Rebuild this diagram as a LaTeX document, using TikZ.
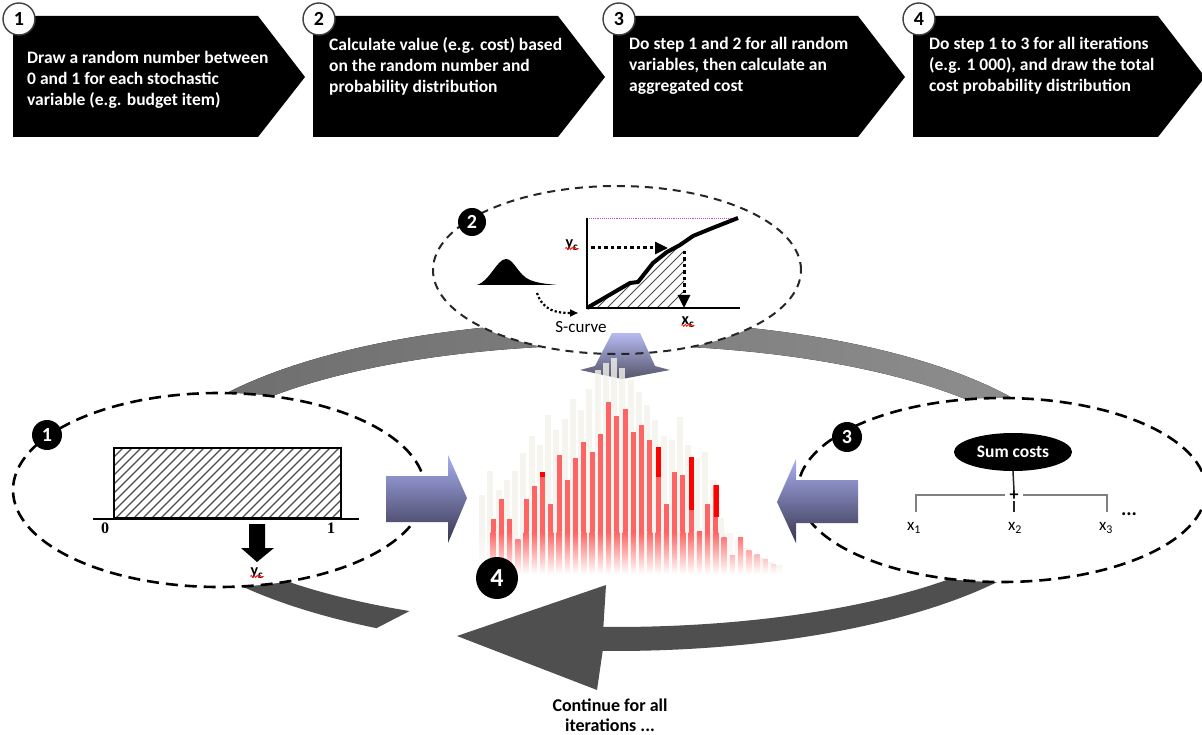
\documentclass[tikz,border=0pt]{standalone}
\usepackage{fontspec}
\setmainfont{Carlito}
\newfontfamily\serifnum{Liberation Serif}
\usetikzlibrary{shapes.geometric,decorations.pathmorphing,arrows.meta}
\definecolor{bandL}{HTML}{6E6E6E}
\definecolor{bandR}{HTML}{8E8E8E}
\definecolor{banddark}{HTML}{4F4F4F}
\definecolor{bluetop}{HTML}{A9AEF0}
\definecolor{bluebot}{HTML}{36364E}
\definecolor{ghostc}{HTML}{F3F1EA}
\definecolor{barred}{HTML}{FF6464}
\definecolor{purpl}{HTML}{C050C8}
\begin{document}
\begin{tikzpicture}[x=1pt,y=-1pt,
  stepcircle/.style={circle, draw=black!75, line width=1.4pt, fill=white, minimum size=32pt, inner sep=0pt, font=\bfseries\fontsize{20}{20}\selectfont},
  steptext/.style={anchor=north west, align=left, text=white, font=\bfseries\fontsize{17.5}{21}\selectfont, inner sep=0pt},
  blacknum/.style={circle, fill=black, inner sep=0pt, text=white, font=\bfseries\fontsize{20}{20}\selectfont},
  dashell/.style={ellipse, draw=black, dash pattern=on 12pt off 7pt, line width=2.6pt, fill=white, inner sep=0pt},
  hatchline/.style={line width=1.2pt, black!70},
  lbl/.style={inner sep=0pt, font=\fontsize{17}{17}\selectfont},
  squig/.style={red, line width=0.7pt, decorate, decoration={zigzag, amplitude=1.1pt, segment length=3pt}},
  dotarrow/.style={line width=3pt, dash pattern=on 3.5pt off 3pt, -{Triangle[length=13pt,width=12pt]}},
  bluearrow/.style={top color=bluetop, bottom color=bluebot}
]
\path[use as bounding box] (0,0) rectangle (1202,735);

% ---------- top chevrons ----------
\foreach \L/\n in {13/1,313/2,613/3,913/4}{
  \fill[black] (\L,16) -- ++(245,0) -- ++(47,61) -- ++(-47,60) -- ++(-245,0) -- cycle;
}
\node[steptext] (t1) at (27,51) {Draw a random number between\\0 and 1 for each stochastic\\variable (e.g. budget item)};
\node[steptext] (t2) at (329,37) {Calculate value (e.g. cost) based\\on the random number and\\probability distribution};
\node[steptext] (t3) at (629,37) {Do step 1 and 2 for all random\\variables, then calculate an\\aggregated cost};
\node[steptext] (t4) at (929,37) {Do step 1 to 3 for all iterations\\(e.g. 1 000), and draw the total\\cost probability distribution};
\node[stepcircle] (s1) at (19,19) {1};
\node[stepcircle] (s2) at (319,19) {2};
\node[stepcircle] (s3) at (619,19) {3};
\node[stepcircle] (s4) at (919,19) {4};

% ---------- ring ----------
\fill[left color=bandL, right color=bandR]
  plot[domain=150:25, samples=60, variable=\t] ({615+470*cos(\t)},{486-165*sin(\t)})
  -- plot[domain=25:150, samples=60, variable=\t] ({615+445*cos(\t)},{486-141*sin(\t)}) -- cycle;
\fill[banddark]
  plot[domain=200:239.5, samples=30, variable=\t] ({615+470*cos(\t)},{486-165*sin(\t)})
  -- plot[domain=242.5:200, samples=30, variable=\t] ({615+445*cos(\t)},{486-141*sin(\t)}) -- cycle;
\coordinate (hb) at (597,690);
\coordinate (ht) at (457,636);
\coordinate (hu) at (606,585);
\fill[banddark]
  plot[domain=335:268.5, samples=50, variable=\t] ({615+470*cos(\t)},{486-165*sin(\t)})
  -- (hb) -- (ht) -- (hu)
  -- plot[domain=268.5:335, samples=50, variable=\t] ({615+445*cos(\t)},{486-141*sin(\t)}) -- cycle;

% ---------- ellipses 1 and 3 ----------
\node[dashell, minimum width=412pt, minimum height=194pt] (e1) at (219,490) {};
\node[dashell, minimum width=408pt, minimum height=184pt] (e3) at (1002,490) {};
\fill[white] (617,270) ellipse[x radius=184, y radius=84];

% ---------- blue arrows ----------
\shade[bluearrow] (386,476) -- (448,476) -- (448,455) -- (467,498) -- (448,543) -- (448,522) -- (386,522) -- cycle;
\shade[bluearrow] (858,480) -- (796,480) -- (796,459) -- (777,502) -- (796,543) -- (796,523) -- (858,523) -- cycle;
\shade[top color=bluetop!85!white, bottom color=bluebot!85!white] (612,333) -- (640,333) -- (655,366) -- (670,370) -- (622,379) -- (580,370) -- (595,366) -- cycle;

% ---------- histogram ----------
\foreach \t [count=\i from 0] in {495,471,490,480,471,453,436,445,415,430,419,399,410,389,370,363,358,368,380,392,405,420,436,440,417,445,458,452,480,518,533,540,548,555,558,562,565}{
  \pgfmathsetmacro{\bx}{479+8.25*\i}
  \ifdim \t pt<532pt
    \fill[ghostc, fill opacity=0.8] (\bx,\t) rectangle (\bx+6,532);
    \shade[top color=ghostc!80!white, bottom color=white] (\bx,532) rectangle (\bx+6,574);
  \else
    \shade[top color=ghostc!70!white, bottom color=white] (\bx,\t) rectangle (\bx+6,574);
  \fi
}
\foreach \t [count=\i from 0] in {519,499,519,539,499,486,472,504,455,480,458,442,452,434,402,416,409,432,425,440,447,504,472,475,457,531,504,485,537,555,537,550,554,559,564}{
  \pgfmathsetmacro{\bx}{490.7+8.25*\i}
  \ifdim \t pt<532pt
    \fill[barred] (\bx,\t) rectangle (\bx+5,532);
    \shade[top color=barred, bottom color=white] (\bx,532) rectangle (\bx+5,574);
  \else
    \pgfmathsetmacro{\fr}{100*(574-\t)/42}
    \shade[top color=barred!\fr!white, bottom color=white] (\bx,\t) rectangle (\bx+5,574);
  \fi
}
\fill[red] (540.2,472) rectangle (545.2,477);
\fill[red] (655.7,447) rectangle (660.7,477);
\fill[red] (688.7,457) rectangle (693.7,510);
\fill[red] (713.5,485) rectangle (718.5,517);

% ---------- ellipse 2 ----------
\node[ellipse, draw=black!85, dash pattern=on 8pt off 6pt, line width=2pt, minimum width=368pt, minimum height=168pt, inner sep=0pt] (e2) at (617,270) {};

% bell
\fill[black] (477,285) .. controls (490,281) and (497,259) .. (506,259)
  .. controls (514,259) and (518,275) .. (530,280)
  .. controls (540,284) and (550,284) .. (557,285) -- cycle;
\draw[line width=2.2pt, dash pattern=on 2.2pt off 2.2pt, -{Triangle[length=8pt,width=7pt]}]
  (537,293) .. controls (543,311) and (557,313) .. (578,313);
\node[lbl, anchor=center] (scurve) at (581,327) {S-curve};
% hatch under curve
\begin{scope}
  \clip (587,308) -- (630,283) -- (638,282) -- (653,263) -- (667,252) -- (680,245) -- (684,243) -- (684,308) -- cycle;
  \foreach \k in {0,...,18}{
    \draw[line width=1pt, black!70] (587+\k*10-100,308) -- ++(100,-100);
  }
\end{scope}
\coordinate (o) at (587,308);
\coordinate (ytop) at (587,218);
\coordinate (xend) at (740,308);
\coordinate (rtop) at (738,218);
\draw[purpl, line width=0.9pt, densely dotted] (ytop) -- (rtop);
\draw[line width=2pt] (ytop) -- (o) -- (xend);
\draw[line width=4pt, line join=round] (o) -- (630,283) -- (638,282) -- (653,263) -- (667,252) -- (680,245) -- (693,236) -- (710,229) -- (rtop);
\coordinate (ha) at (591,248);
\coordinate (hz) at (668,248);
\coordinate (va) at (684,251);
\coordinate (vz) at (684,308);
\draw[dotarrow] (ha) -- (hz);
\draw[dotarrow] (va) -- (vz);
\node[inner sep=0pt, font=\bfseries\fontsize{16}{16}\selectfont] (yc2) at (572,245) {y\textsubscript{c}};
\draw[squig] ([yshift=2pt]yc2.south west) -- ([yshift=2pt]yc2.south east);
\node[inner sep=0pt, font=\bfseries\fontsize{16}{16}\selectfont] (xc2) at (688,322) {x\textsubscript{c}};
\draw[squig] ([yshift=2pt]xc2.south west) -- ([yshift=2pt]xc2.south east);

% ---------- ellipse 1 content ----------
\begin{scope}
  \clip (114,448) rectangle (341,518);
  \foreach \k in {0,...,34}{
    \draw[hatchline] (114+\k*9-70,518) -- ++(70,-70);
  }
\end{scope}
\draw[line width=1.5pt] (114,448) rectangle (341,518);
\coordinate (bl) at (93,519);
\coordinate (br) at (359,519);
\draw[line width=2pt] (bl) -- (br);
\node[inner sep=0pt, font=\serifnum\bfseries\fontsize{16}{16}\selectfont] (zero) at (105,528) {0};
\node[inner sep=0pt, font=\serifnum\bfseries\fontsize{16}{16}\selectfont] (one) at (331,528) {1};
\fill[black] (249,524) -- (265,524) -- (265,548) -- (274,548) -- (257,562) -- (241,548) -- (249,548) -- cycle;
\node[inner sep=0pt, font=\bfseries\fontsize{16}{16}\selectfont] (yc1) at (257,573) {y\textsubscript{c}};
\draw[squig] ([yshift=2pt]yc1.south west) -- ([yshift=2pt]yc1.south east);

% ---------- ellipse 3 content ----------
\node[ellipse, fill=black, minimum width=118pt, minimum height=38pt, inner sep=0pt, text=white, font=\bfseries\fontsize{17.5}{17.5}\selectfont] (sum) at (1013,452) {Sum costs};
\node[inner sep=0pt, font=\bfseries\fontsize{18}{18}\selectfont] (plus) at (1014,496) {+};
\coordinate (b1) at (916,512);
\coordinate (b1t) at (916,495);
\coordinate (bm1) at (1005,495);
\coordinate (bm2) at (1023,495);
\coordinate (b3t) at (1107,495);
\coordinate (b3) at (1107,512);
\coordinate (b2) at (1014,512);
\draw[black!50, line width=2.5pt] (b1) -- (b1t) -- (bm1);
\draw[black!50, line width=2.5pt] (bm2) -- (b3t) -- (b3);
\draw[black!85, line width=1.5pt] (sum.south) -- (plus.north);
\draw[black!85, line width=1.5pt] (plus.south) -- (b2);
\node[lbl] (x1) at (914,528) {x\textsubscript{1}};
\node[lbl] (x2) at (1015,528) {x\textsubscript{2}};
\node[lbl] (x3) at (1106,528) {x\textsubscript{3}};
\node[inner sep=0pt, anchor=base, font=\bfseries\fontsize{20}{20}\selectfont] (dots) at (1129,515) {...};

% ---------- numbers ----------
\node[blacknum, minimum size=30pt] (c1) at (47,435) {1};
\node[blacknum, minimum size=28pt] (c2) at (472,222) {2};
\node[blacknum, minimum size=30pt] (c3) at (847,437) {3};
\node[blacknum, minimum size=42pt, font=\bfseries\fontsize{26}{26}\selectfont] (c4) at (497,578) {4};

% ---------- bottom text ----------
\node[align=center, inner sep=0pt, font=\bfseries\fontsize{18}{20}\selectfont] (cont) at (610,715) {Continue for all\\iterations ...};
\end{tikzpicture}
\end{document}
